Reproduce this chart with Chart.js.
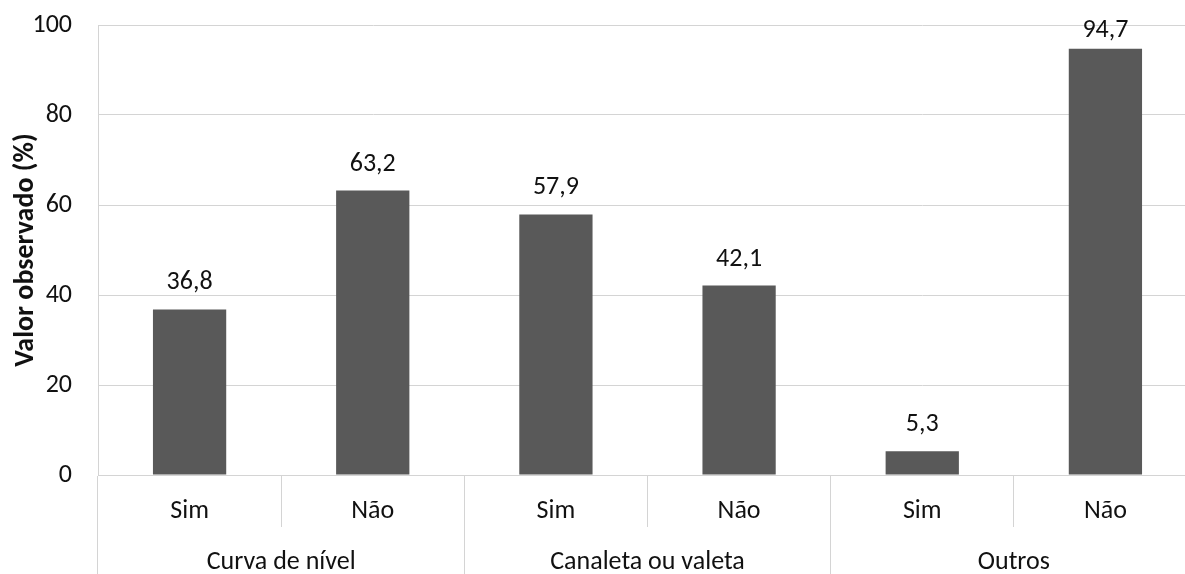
<!DOCTYPE html>
<html><head><meta charset="utf-8">
<script src="https://cdn.jsdelivr.net/npm/chart.js@4/dist/chart.umd.min.js"></script>
<style>
html,body{margin:0;padding:0;background:#fff;overflow:hidden;width:1185px;height:574px}
#wrap{position:relative;width:1197px;height:600px}
</style></head>
<body><div id="wrap"><canvas id="c"></canvas></div>
<script>
const groups = ['Curva de nível', 'Canaleta ou valeta', 'Outros'];
const answers = ['Sim', 'Não', 'Sim', 'Não', 'Sim', 'Não'];
const values = [36.8, 63.2, 57.9, 42.1, 5.3, 94.7];
const yTicks = [0, 20, 40, 60, 80, 100];
const yTitle = 'Valor observado (%)';

const FONT = "Carlito, Lato, 'Open Sans', sans-serif";
const GRID = '#d4d4d4';
const FS = 26;

const labelPlugin = {
  id: 'vals',
  afterDatasetsDraw(chart) {
    const ctx = chart.ctx;
    const meta = chart.getDatasetMeta(0);
    const minBase = chart.chartArea.top + 12;
    ctx.save();
    ctx.font = FS + 'px ' + FONT;
    ctx.fillStyle = '#111';
    ctx.textAlign = 'center';
    ctx.textBaseline = 'alphabetic';
    meta.data.forEach((bar, i) => {
      const t = values[i].toFixed(1).replace('.', ',');
      ctx.fillText(t, bar.x, Math.max(bar.y - 20, minBase));
    });
    ctx.restore();
  }
};

new Chart(document.getElementById('c'), {
  type: 'bar',
  data: {
    labels: answers,
    datasets: [{
      data: values,
      backgroundColor: '#595959',
      borderColor: '#595959',
      borderWidth: 0,
      barPercentage: 0.4,
      categoryPercentage: 1.0,
      xAxisID: 'x'
    }]
  },
  options: {
    responsive: true,
    maintainAspectRatio: false,
    animation: false,
    layout: { padding: { top: 25, right: 0, left: 0, bottom: 0 } },
    plugins: { legend: { display: false }, tooltip: { enabled: false } },
    scales: {
      y: {
        min: 0, max: 100,
        afterBuildTicks(s) { s.ticks = yTicks.map(v => ({ value: v })); },
        afterFit(s) { s.width = 98; s.paddingTop = 0; s.paddingBottom = 0; },
        grid: { color: GRID, drawTicks: false, lineWidth: 1 },
        border: { display: true, color: GRID },
        ticks: { padding: 26, color: '#111', font: { size: FS, family: FONT } },
        title: { display: true, text: yTitle, color: '#111', padding: { top: 9, bottom: 0 },
                 font: { size: 28, weight: 'bold', family: FONT } }
      },
      x: {
        type: 'category',
        position: 'bottom',
        offset: true,
        afterFit(s) { s.height = 52; s.paddingLeft = 0; s.paddingRight = 0; },
        grid: { offset: true, drawOnChartArea: false, drawTicks: true, tickLength: 52, color: GRID, lineWidth: 1 },
        border: { display: true, color: GRID },
        ticks: { padding: -31, color: '#111', maxRotation: 0, autoSkip: false, font: { size: FS, family: FONT } }
      },
      x2: {
        type: 'category',
        position: 'bottom',
        labels: groups,
        offset: true,
        afterFit(s) { s.height = 73; s.paddingLeft = 0; s.paddingRight = 0; },
        grid: { offset: true, drawOnChartArea: false, drawTicks: true, tickLength: 73, color: GRID, lineWidth: 1 },
        border: { display: false },
        ticks: { padding: -53, color: '#111', maxRotation: 0, autoSkip: false, font: { size: FS, family: FONT } }
      }
    }
  },
  plugins: [labelPlugin]
});
</script></body></html>
